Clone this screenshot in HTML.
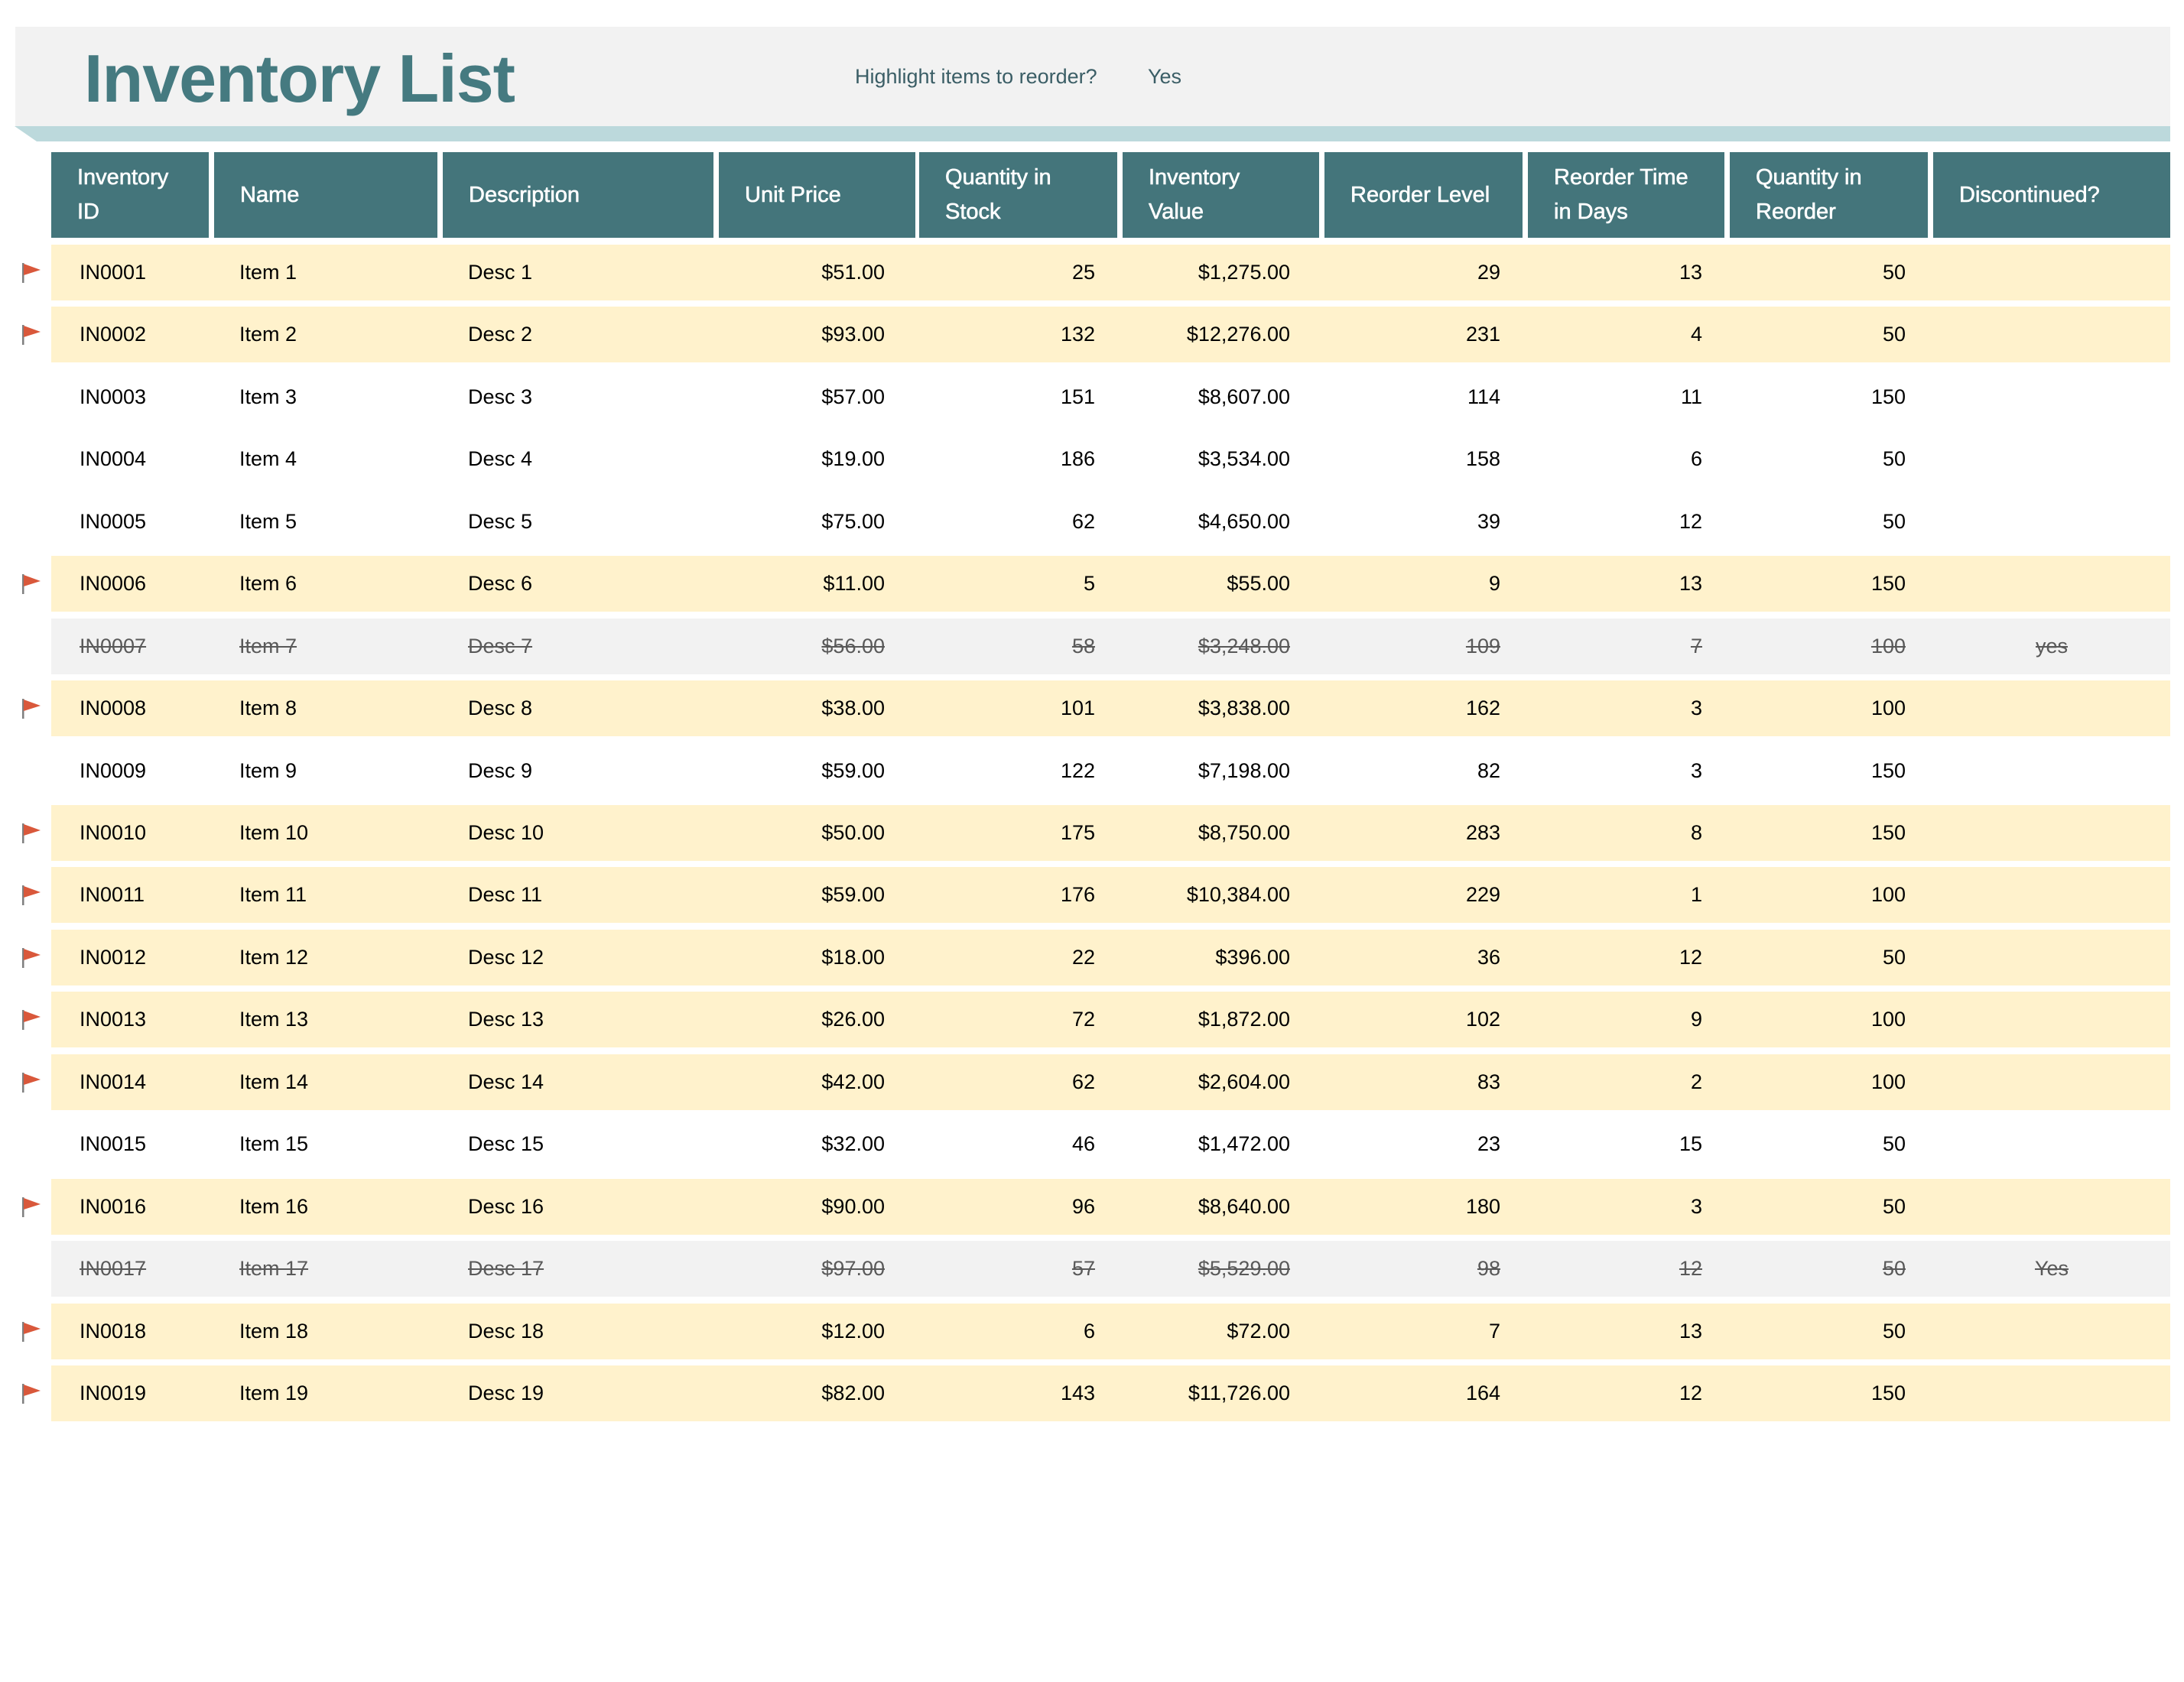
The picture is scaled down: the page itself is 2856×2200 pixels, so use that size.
<!DOCTYPE html>
<html><head><meta charset="utf-8"><style>
*{margin:0;padding:0;box-sizing:border-box}
body{width:2856px;height:2200px;background:#fff;position:relative;overflow:hidden;font-family:"Liberation Sans",Arial,sans-serif}
.band{position:absolute;left:20px;top:35px;width:2818px;height:130px;background:#f2f2f2}
.stripe{position:absolute;left:19px;top:165px;width:2819px;height:20px;background:#bcd9dc;clip-path:polygon(0 0,100% 0,100% 100%,29px 100%)}
.title{position:absolute;left:110px;top:48px;font-size:88px;color:#457a80;font-weight:bold;letter-spacing:-1px;line-height:110px}
.hl{position:absolute;top:82px;font-size:27px;color:#3b5e66;line-height:36px}
.h{position:absolute;top:199px;height:112px;background:#44757b;color:#fff;font-size:29px;line-height:45px;display:flex;align-items:center;padding-left:34px;-webkit-text-stroke:0.6px #fff}
.r{position:absolute;left:67px;width:2771px;height:73px;font-size:27px;line-height:73px;color:#000}
.y{background:#fff2cc}.g{background:#f2f2f2;color:#595959}.g span{text-decoration:line-through}
.r span{position:absolute;top:0;white-space:nowrap}
.a{left:37px}.b{left:246px}.c{left:545px}
.d{right:1681px}.e{right:1406px}.f{right:1151px}.k{right:876px}.m{right:612px}.n{right:346px}
.o{left:2461px;width:310px;text-align:center}
.flag{position:absolute;left:-40px;top:23px;width:28px;height:28px}
</style></head><body>
<div class="band"></div><div class="stripe"></div>
<div class="title">Inventory List</div>
<div class="hl" style="left:1118px">Highlight items to reorder?</div>
<div class="hl" style="left:1501px">Yes</div>

<div class="h" style="left:67px;width:206px">Inventory<br>ID</div>
<div class="h" style="left:280px;width:292px">Name</div>
<div class="h" style="left:579px;width:354px">Description</div>
<div class="h" style="left:940px;width:257px">Unit Price</div>
<div class="h" style="left:1202px;width:259px">Quantity in<br>Stock</div>
<div class="h" style="left:1468px;width:257px">Inventory<br>Value</div>
<div class="h" style="left:1732px;width:259px">Reorder Level</div>
<div class="h" style="left:1998px;width:257px">Reorder Time<br>in Days</div>
<div class="h" style="left:2262px;width:259px">Quantity in<br>Reorder</div>
<div class="h" style="left:2528px;width:310px">Discontinued?</div>

<div class="r y" style="top:320px"><svg class="flag" viewBox="0 0 28 28"><rect x="2" y="1" width="2.5" height="26" fill="#7f7f7f"/><polygon points="4,2 26,10 4,17" fill="#d9583b"/></svg><span class="a">IN0001</span><span class="b">Item 1</span><span class="c">Desc 1</span><span class="d">$51.00</span><span class="e">25</span><span class="f">$1,275.00</span><span class="k">29</span><span class="m">13</span><span class="n">50</span></div>
<div class="r y" style="top:401px"><svg class="flag" viewBox="0 0 28 28"><rect x="2" y="1" width="2.5" height="26" fill="#7f7f7f"/><polygon points="4,2 26,10 4,17" fill="#d9583b"/></svg><span class="a">IN0002</span><span class="b">Item 2</span><span class="c">Desc 2</span><span class="d">$93.00</span><span class="e">132</span><span class="f">$12,276.00</span><span class="k">231</span><span class="m">4</span><span class="n">50</span></div>
<div class="r" style="top:483px"><span class="a">IN0003</span><span class="b">Item 3</span><span class="c">Desc 3</span><span class="d">$57.00</span><span class="e">151</span><span class="f">$8,607.00</span><span class="k">114</span><span class="m">11</span><span class="n">150</span></div>
<div class="r" style="top:564px"><span class="a">IN0004</span><span class="b">Item 4</span><span class="c">Desc 4</span><span class="d">$19.00</span><span class="e">186</span><span class="f">$3,534.00</span><span class="k">158</span><span class="m">6</span><span class="n">50</span></div>
<div class="r" style="top:646px"><span class="a">IN0005</span><span class="b">Item 5</span><span class="c">Desc 5</span><span class="d">$75.00</span><span class="e">62</span><span class="f">$4,650.00</span><span class="k">39</span><span class="m">12</span><span class="n">50</span></div>
<div class="r y" style="top:727px"><svg class="flag" viewBox="0 0 28 28"><rect x="2" y="1" width="2.5" height="26" fill="#7f7f7f"/><polygon points="4,2 26,10 4,17" fill="#d9583b"/></svg><span class="a">IN0006</span><span class="b">Item 6</span><span class="c">Desc 6</span><span class="d">$11.00</span><span class="e">5</span><span class="f">$55.00</span><span class="k">9</span><span class="m">13</span><span class="n">150</span></div>
<div class="r g" style="top:809px"><span class="a">IN0007</span><span class="b">Item 7</span><span class="c">Desc 7</span><span class="d">$56.00</span><span class="e">58</span><span class="f">$3,248.00</span><span class="k">109</span><span class="m">7</span><span class="n">100</span><span class="o">yes</span></div>
<div class="r y" style="top:890px"><svg class="flag" viewBox="0 0 28 28"><rect x="2" y="1" width="2.5" height="26" fill="#7f7f7f"/><polygon points="4,2 26,10 4,17" fill="#d9583b"/></svg><span class="a">IN0008</span><span class="b">Item 8</span><span class="c">Desc 8</span><span class="d">$38.00</span><span class="e">101</span><span class="f">$3,838.00</span><span class="k">162</span><span class="m">3</span><span class="n">100</span></div>
<div class="r" style="top:972px"><span class="a">IN0009</span><span class="b">Item 9</span><span class="c">Desc 9</span><span class="d">$59.00</span><span class="e">122</span><span class="f">$7,198.00</span><span class="k">82</span><span class="m">3</span><span class="n">150</span></div>
<div class="r y" style="top:1053px"><svg class="flag" viewBox="0 0 28 28"><rect x="2" y="1" width="2.5" height="26" fill="#7f7f7f"/><polygon points="4,2 26,10 4,17" fill="#d9583b"/></svg><span class="a">IN0010</span><span class="b">Item 10</span><span class="c">Desc 10</span><span class="d">$50.00</span><span class="e">175</span><span class="f">$8,750.00</span><span class="k">283</span><span class="m">8</span><span class="n">150</span></div>
<div class="r y" style="top:1134px"><svg class="flag" viewBox="0 0 28 28"><rect x="2" y="1" width="2.5" height="26" fill="#7f7f7f"/><polygon points="4,2 26,10 4,17" fill="#d9583b"/></svg><span class="a">IN0011</span><span class="b">Item 11</span><span class="c">Desc 11</span><span class="d">$59.00</span><span class="e">176</span><span class="f">$10,384.00</span><span class="k">229</span><span class="m">1</span><span class="n">100</span></div>
<div class="r y" style="top:1216px"><svg class="flag" viewBox="0 0 28 28"><rect x="2" y="1" width="2.5" height="26" fill="#7f7f7f"/><polygon points="4,2 26,10 4,17" fill="#d9583b"/></svg><span class="a">IN0012</span><span class="b">Item 12</span><span class="c">Desc 12</span><span class="d">$18.00</span><span class="e">22</span><span class="f">$396.00</span><span class="k">36</span><span class="m">12</span><span class="n">50</span></div>
<div class="r y" style="top:1297px"><svg class="flag" viewBox="0 0 28 28"><rect x="2" y="1" width="2.5" height="26" fill="#7f7f7f"/><polygon points="4,2 26,10 4,17" fill="#d9583b"/></svg><span class="a">IN0013</span><span class="b">Item 13</span><span class="c">Desc 13</span><span class="d">$26.00</span><span class="e">72</span><span class="f">$1,872.00</span><span class="k">102</span><span class="m">9</span><span class="n">100</span></div>
<div class="r y" style="top:1379px"><svg class="flag" viewBox="0 0 28 28"><rect x="2" y="1" width="2.5" height="26" fill="#7f7f7f"/><polygon points="4,2 26,10 4,17" fill="#d9583b"/></svg><span class="a">IN0014</span><span class="b">Item 14</span><span class="c">Desc 14</span><span class="d">$42.00</span><span class="e">62</span><span class="f">$2,604.00</span><span class="k">83</span><span class="m">2</span><span class="n">100</span></div>
<div class="r" style="top:1460px"><span class="a">IN0015</span><span class="b">Item 15</span><span class="c">Desc 15</span><span class="d">$32.00</span><span class="e">46</span><span class="f">$1,472.00</span><span class="k">23</span><span class="m">15</span><span class="n">50</span></div>
<div class="r y" style="top:1542px"><svg class="flag" viewBox="0 0 28 28"><rect x="2" y="1" width="2.5" height="26" fill="#7f7f7f"/><polygon points="4,2 26,10 4,17" fill="#d9583b"/></svg><span class="a">IN0016</span><span class="b">Item 16</span><span class="c">Desc 16</span><span class="d">$90.00</span><span class="e">96</span><span class="f">$8,640.00</span><span class="k">180</span><span class="m">3</span><span class="n">50</span></div>
<div class="r g" style="top:1623px"><span class="a">IN0017</span><span class="b">Item 17</span><span class="c">Desc 17</span><span class="d">$97.00</span><span class="e">57</span><span class="f">$5,529.00</span><span class="k">98</span><span class="m">12</span><span class="n">50</span><span class="o">Yes</span></div>
<div class="r y" style="top:1705px"><svg class="flag" viewBox="0 0 28 28"><rect x="2" y="1" width="2.5" height="26" fill="#7f7f7f"/><polygon points="4,2 26,10 4,17" fill="#d9583b"/></svg><span class="a">IN0018</span><span class="b">Item 18</span><span class="c">Desc 18</span><span class="d">$12.00</span><span class="e">6</span><span class="f">$72.00</span><span class="k">7</span><span class="m">13</span><span class="n">50</span></div>
<div class="r y" style="top:1786px"><svg class="flag" viewBox="0 0 28 28"><rect x="2" y="1" width="2.5" height="26" fill="#7f7f7f"/><polygon points="4,2 26,10 4,17" fill="#d9583b"/></svg><span class="a">IN0019</span><span class="b">Item 19</span><span class="c">Desc 19</span><span class="d">$82.00</span><span class="e">143</span><span class="f">$11,726.00</span><span class="k">164</span><span class="m">12</span><span class="n">150</span></div>
</body></html>
